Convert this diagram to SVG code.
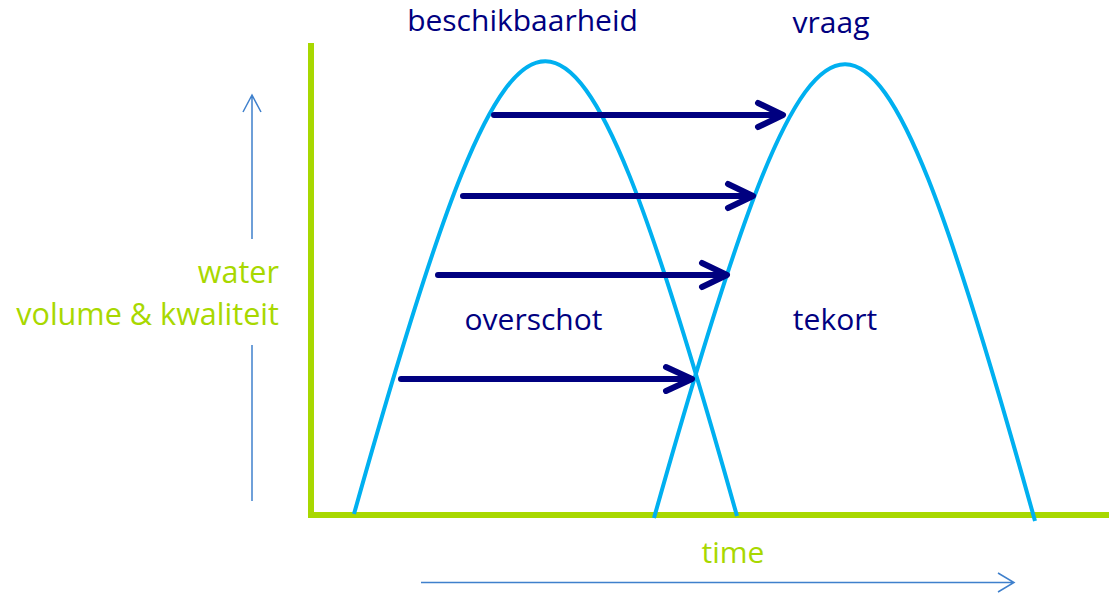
<svg xmlns="http://www.w3.org/2000/svg" width="1109" height="594" viewBox="0 0 1109 594">
  <style>
    .lbl { font-family: "Open Sans", "Liberation Sans", sans-serif; font-size: 30px; text-anchor: middle; }
    .navy { fill: #000080; }
    .green { fill: #A8D800; }
    .ylab { font-size: 30.6px; text-anchor: end; }
    .curve { fill: none; stroke: #00B0F0; stroke-width: 4; }
    .flow { fill: none; stroke: #000080; stroke-width: 6; stroke-linecap: round; stroke-linejoin: round; }
    .thin { fill: none; stroke: #3F80CC; stroke-width: 1.5; }
    .axis { fill: none; stroke: #A8D800; stroke-width: 6; }
  </style>
  <rect width="1109" height="594" fill="#FFFFFF"/>

  <g id="axes">
    <path class="axis" d="M311,43 V515 H1109"/>
  </g>

  <g id="beschikbaarheid">
    <path class="curve" d="M354,514 C524,-91 567,-89 737,516"/>
    <text class="lbl navy" x="522.5" y="31">beschikbaarheid</text>
  </g>

  <g id="vraag">
    <path class="curve" d="M654,518 C825,-89 866,-86 1035,521"/>
    <text class="lbl navy" x="831" y="33">vraag</text>
  </g>

  <g id="overschot">
    <text class="lbl navy" x="533.5" y="330">overschot</text>
  </g>

  <g id="tekort">
    <text class="lbl navy" x="835" y="330">tekort</text>
  </g>

  <g id="y-axis-label">
    <text class="lbl green ylab" x="279" y="283">water</text>
    <text class="lbl green ylab" x="279" y="325">volume &amp; kwaliteit</text>
  </g>

  <g id="x-axis-label">
    <text class="lbl green" x="733" y="563">time</text>
  </g>

  <g id="connectors">
    <path class="flow" d="M494,115 H781 M758,103 L783,115 L758,127"/>
    <path class="flow" d="M463,196 H751 M728,184 L753,196 L728,208"/>
    <path class="flow" d="M438,275 H725 M702,263 L727,275 L702,287"/>
    <path class="flow" d="M401,379 H690 M666,367 L692,379 L666,391"/>
    <path class="thin" d="M252,239 V96 M243,112 L252,95 L261,112"/>
    <path class="thin" d="M252,345 V501"/>
    <path class="thin" d="M421,582.5 H1013 M998,573 L1014,582.5 L998,592"/>
  </g>
</svg>
